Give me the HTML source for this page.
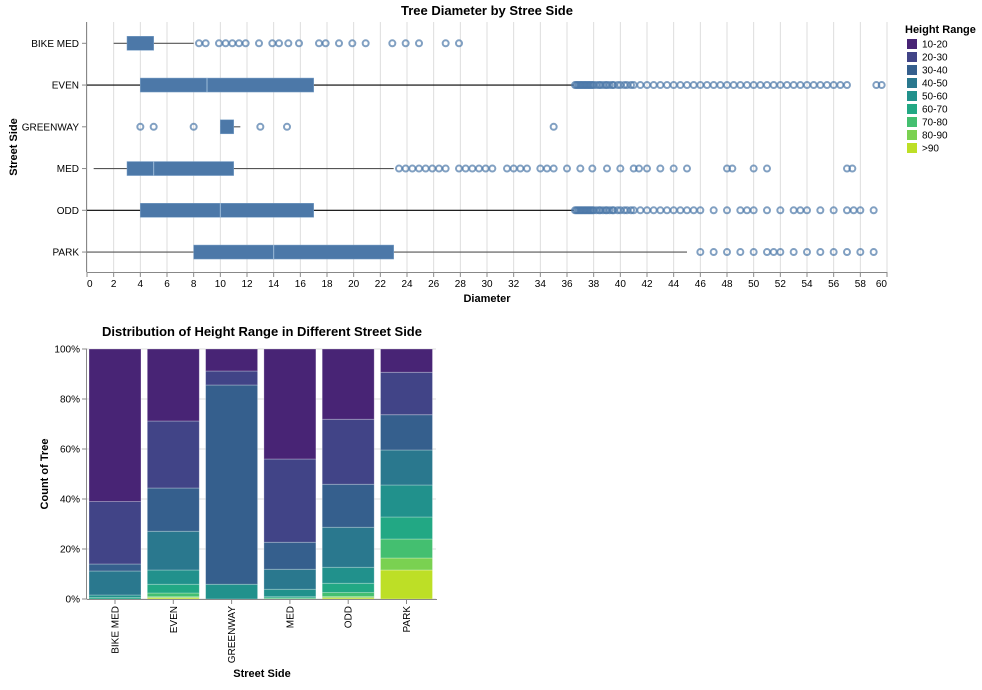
<!DOCTYPE html>
<html><head><meta charset="utf-8"><style>
body{margin:0;background:#fff;font-family:"Liberation Sans",sans-serif}
svg text{font-family:"Liberation Sans",sans-serif}
</style></head><body>
<svg width="982" height="685" xmlns="http://www.w3.org/2000/svg">
<g id="top"></g>
<g id="bot"></g>
<g id="leg"></g>
</svg>
<script>
const NS="http://www.w3.org/2000/svg";
function mk(p,t,a,txt){const e=document.createElementNS(NS,t);for(const k in a)e.setAttribute(k,a[k]);if(txt!==undefined)e.textContent=txt;p.appendChild(e);return e;}

// ---- Box plot data ----
const sides=["BIKE MED","EVEN","GREENWAY","MED","ODD","PARK"];
const whiskLo=[2,0,10,0.5,0,0];
const q1=[3,4,10,3,4,8];
const med=[5,9,11,5,10,14];
const q3=[5,17,11,11,17,23];
const whiskHi=[8,36.5,11.5,23,36.5,45];
const outBike=[8.4,8.9,9.9,10.4,10.9,11.4,11.9,12.9,13.9,14.4,15.1,15.9,17.4,17.9,18.9,19.9,20.9,22.9,23.9,24.9,26.9,27.9];
const outEven=[36.6,36.7,36.8,36.9,37,37.1,37.2,37.3,37.4,37.5,37.6,37.7,37.8,37.9,38,38.2,38.4,38.5,38.7,38.9,39,39.2,39.4,39.5,39.8,40,40.3,40.5,40.8,41,41.5,42,42.5,43,43.5,44,44.5,45,45.5,46,46.5,47,47.5,48,48.5,49,49.5,50,50.5,51,51.5,52,52.5,53,53.5,54,54.5,55,55.5,56,56.5,57,59.2,59.6];
const outGreen=[4,5,8,13,15,35];
const outMed=[23.4,23.9,24.4,24.9,25.4,25.9,26.4,26.9,27.9,28.4,28.9,29.4,29.9,30.4,31.5,32,32.5,33,34,34.5,35,36,37,37.9,39,40,41,41.4,42,43,44,45,48,48.4,50,51,57,57.4];
const outOdd=[36.6,36.7,36.8,36.9,37,37.1,37.2,37.3,37.4,37.5,37.6,37.7,37.8,37.9,38,38.2,38.4,38.5,38.7,38.9,39,39.2,39.4,39.5,39.8,40,40.3,40.5,40.8,41,41.5,42,42.5,43,43.5,44,44.5,45,45.5,46,47,48,49,49.5,50,51,52,53,53.5,54,55,56,57,57.5,58,59];
const outPark=[46,47,48,49,50,51,51.5,52,53,54,55,56,57,58,59];
const outliers=[outBike,outEven,outGreen,outMed,outOdd,outPark];
const xTicks=[0,2,4,6,8,10,12,14,16,18,20,22,24,26,28,30,32,34,36,38,40,42,44,46,48,50,52,54,56,58,60];

// ---- Stacked data (percent, bottom order reversed in drawing) ----
const ranges=["10-20","20-30","30-40","40-50","50-60","60-70","70-80","80-90",">90"];
const colors=["#482475","#414487","#355f8d","#2a788e","#21918c","#22a884","#44bf70","#7ad151","#bddf26"];
const pBike=[61,25,2.8,9.6,1,0.6,0,0,0];
const pEven=[28.8,26.8,17.3,15.5,5.7,3.5,1.5,0.4,0.5];
const pGreen=[8.8,5.6,79.7,0,5.9,0,0,0,0];
const pMed=[44,33.3,10.8,8,3,0.5,0.4,0,0];
const pOdd=[28.1,26,17.2,16,6.4,3.7,1.6,0.5,0.5];
const pPark=[9.3,17,14.1,14,12.8,8.8,7.6,4.8,11.6];
const pcts=[pBike,pEven,pGreen,pMed,pOdd,pPark];
const yTicks=[0,20,40,60,80,100];

// ---- Top chart ----
const T=document.getElementById('top');
const X0=87,XW=800,Y0=22,YH=250;
const xs=v=>X0+v/60*XW;
const rowY=i=>43.3+i*41.75;
mk(T,'text',{x:487,y:15,'text-anchor':'middle','font-size':13,'font-weight':'bold',},'Tree Diameter by Stree Side');
xTicks.forEach(t=>{
  mk(T,'line',{x1:xs(t),x2:xs(t),y1:Y0,y2:Y0+YH,stroke:'#ddd',});
  mk(T,'line',{x1:xs(t),x2:xs(t),y1:Y0+YH,y2:Y0+YH+5,stroke:'#888',});
  mk(T,'text',{x:xs(t),y:Y0+YH+15,'text-anchor':t==60?'end':(t==0?'start':'middle'),'font-size':10,},String(t));
});
mk(T,'line',{x1:X0,x2:X0+XW,y1:Y0+YH+.5,y2:Y0+YH+.5,stroke:'#888',});
mk(T,'line',{x1:X0-.5,x2:X0-.5,y1:Y0,y2:Y0+YH,stroke:'#888',});
mk(T,'text',{x:487,y:302,'text-anchor':'middle','font-size':11,'font-weight':'bold',},'Diameter');
mk(T,'text',{x:0,y:0,transform:'translate(17,147) rotate(-90)','text-anchor':'middle','font-size':11,'font-weight':'bold',},'Street Side');
sides.forEach((s,i)=>{
  const y=rowY(i);
  mk(T,'line',{x1:X0-5,x2:X0,y1:y,y2:y,stroke:'#888',});
  mk(T,'text',{x:X0-8,y:y+3.5,'text-anchor':'end','font-size':10,},s);
  const wc=(i==1||i==4)?'#000':'#555';
  mk(T,'line',{x1:xs(whiskLo[i]),x2:xs(whiskHi[i]),y1:y,y2:y,stroke:wc,'stroke-width':1.2,});
  mk(T,'rect',{x:xs(q1[i]),y:y-7,width:xs(q3[i])-xs(q1[i]),height:14,fill:'#4c78a8',stroke:'#7aa0c8','stroke-width':.5,});
  if(med[i]<q3[i]) mk(T,'line',{x1:xs(med[i]),x2:xs(med[i]),y1:y-7,y2:y+7,stroke:'#9dbbd9','stroke-width':1,});
  outliers[i].forEach(v=>{
    mk(T,'circle',{cx:xs(v),cy:y,r:3,fill:'none',stroke:'#4c78a8','stroke-width':2,'stroke-opacity':.7,});
  });
});

// ---- Bottom chart ----
const B=document.getElementById('bot');
const BX=87,BY=349,BH=250,step=58.3,bw=52;
const ys=v=>BY+BH-v/100*BH;
mk(B,'text',{x:262,y:336,'text-anchor':'middle','font-size':13,'font-weight':'bold',},'Distribution of Height Range in Different Street Side');
yTicks.forEach(t=>{
  mk(B,'line',{x1:BX,x2:BX+349,y1:ys(t),y2:ys(t),stroke:'#ddd',});
  mk(B,'line',{x1:BX-5,x2:BX,y1:ys(t),y2:ys(t),stroke:'#888',});
  mk(B,'text',{x:BX-7,y:ys(t)+3.5,'text-anchor':'end','font-size':10,},t+'%');
});
pcts.forEach((arr,i)=>{
  const x=BX+2+i*step;
  let cum=0;
  for(let k=arr.length-1;k>=0;k--){
    const v=arr[k]; if(v<=0)continue;
    mk(B,'rect',{x:x,y:ys(cum+v),width:bw,height:ys(cum)-ys(cum+v),fill:colors[k],stroke:'#fff','stroke-opacity':.35,'stroke-width':.8,});
    cum+=v;
  }
  const cx=x+bw/2;
  mk(B,'line',{x1:cx,x2:cx,y1:BY+BH,y2:BY+BH+5,stroke:'#888',});
  mk(B,'text',{x:0,y:0,transform:`translate(${cx+3.5},${BY+BH+7}) rotate(-90)`,'text-anchor':'end','font-size':10,},sides[i]);
});
mk(B,'line',{x1:BX,x2:BX+350,y1:BY+BH+.5,y2:BY+BH+.5,stroke:'#888',});
mk(B,'line',{x1:BX-.5,x2:BX-.5,y1:BY,y2:BY+BH,stroke:'#888',});
mk(B,'text',{x:262,y:677,'text-anchor':'middle','font-size':11,'font-weight':'bold',},'Street Side');
mk(B,'text',{x:0,y:0,transform:'translate(48,474) rotate(-90)','text-anchor':'middle','font-size':11,'font-weight':'bold',},'Count of Tree');

// ---- Legend ----
const L=document.getElementById('leg');
mk(L,'text',{x:905,y:33,'font-size':11,'font-weight':'bold',},'Height Range');
ranges.forEach((r,k)=>{
  const y=44+k*13;
  const g=mk(L,'g',{});
  mk(g,'rect',{x:907,y:y-5,width:10,height:10,fill:colors[k],});
  mk(g,'text',{x:922,y:y+3.5,'font-size':10,},r);
});
</script>
</body></html>
